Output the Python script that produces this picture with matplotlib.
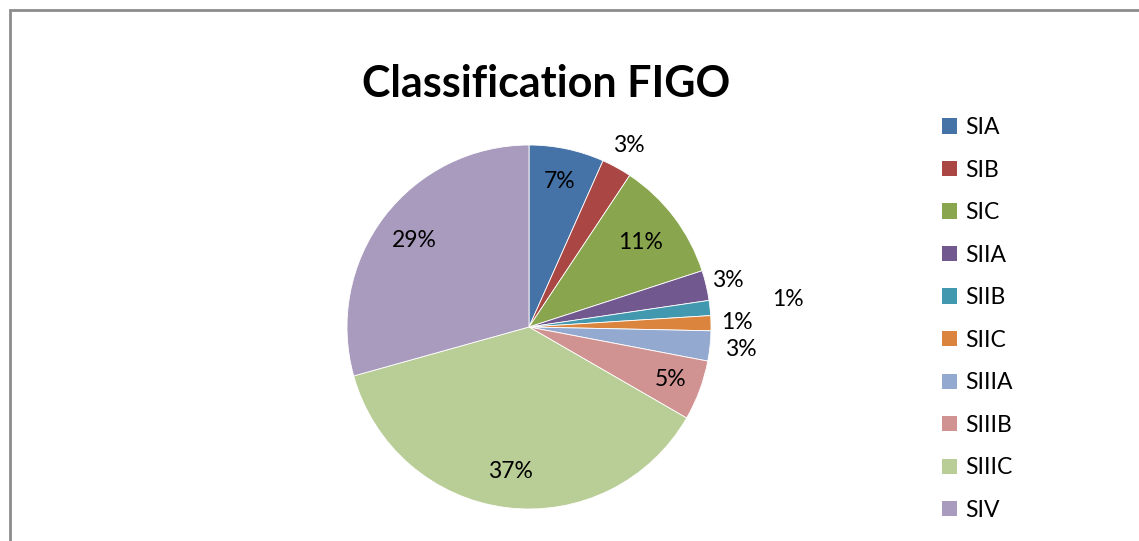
import numpy as np
import matplotlib.pyplot as plt
from matplotlib.patches import Patch, Rectangle

# FIGO stage counts (n = 75)
stages = ['SIA', 'SIB', 'SIC', 'SIIA', 'SIIB', 'SIIC', 'SIIIA', 'SIIIB', 'SIIIC', 'SIV']
counts = [5, 2, 8, 2, 1, 1, 2, 4, 28, 22]
colors = ['#4572A7', '#AA4643', '#89A54E', '#71588F', '#4198AF',
          '#DB843D', '#93A9CF', '#D19392', '#B9CD96', '#A99BBD']
# radial position of each percentage label (1 = pie edge)
label_r = [0.82, 1.14, 0.77, 1.12, 1.43, 1.14, 1.17, 0.83, 0.80, 0.79]

plt.rcParams['font.family'] = ['Lato', 'DejaVu Sans']

W, H = 1139, 541
fig = plt.figure(figsize=(W / 100, H / 100), dpi=100)

# chart area border (Excel style, cut off at right and bottom)
fig.patches.append(Rectangle((10 / W, -0.1), 1.2, (H - 10) / H + 0.1,
                             transform=fig.transFigure, fill=False,
                             edgecolor='#8c8c8c', linewidth=2))

cx, cy, r = 529, 327, 182
ax = fig.add_axes([(cx - r) / W, (H - cy - r) / H, 2 * r / W, 2 * r / H])
wedges, _ = ax.pie(counts, colors=colors, startangle=90, counterclock=False,
                   radius=1, wedgeprops=dict(edgecolor='white', linewidth=0.6))
ax.set_xlim(-1, 1)
ax.set_ylim(-1, 1)
ax.set_aspect('equal')
ax.axis('off')

total = sum(counts)
for w, c, lr in zip(wedges, counts, label_r):
    mid = np.deg2rad((w.theta1 + w.theta2) / 2)
    ax.text(lr * np.cos(mid), lr * np.sin(mid), f'{round(100 * c / total)}%',
            ha='center', va='center', fontsize=16.5, color='black')

fig.text(546 / W, 1 - 84 / H, 'Classification FIGO', ha='center', va='center',
         fontsize=31, fontweight='bold')

handles = [Patch(facecolor=col, edgecolor='none') for col in colors]
fig.legend(handles, stages, loc='upper left', bbox_to_anchor=(942 / W, 1 - 117 / H),
           frameon=False, fontsize=16.5, handlelength=0.65, handleheight=0.65,
           handletextpad=0.35, labelspacing=0.94, borderaxespad=0, borderpad=0)

fig.savefig('out.png', dpi=100)
